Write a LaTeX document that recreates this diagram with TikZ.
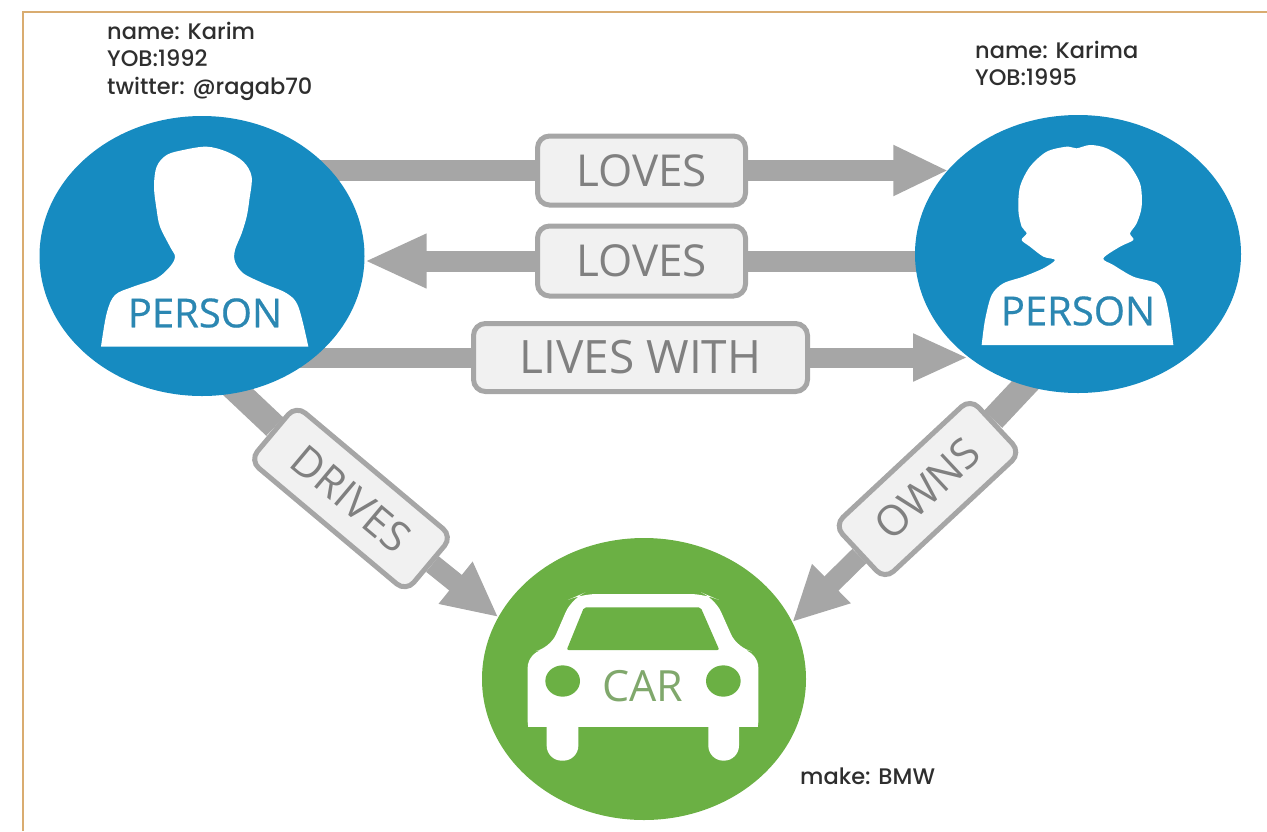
\documentclass[tikz,border=0pt]{standalone}
\usepackage{fontspec}
\setmainfont{Open Sans}
\newfontfamily\propfont{Poppins Medium}
\newfontfamily\typefont[FakeBold=0.5]{Open Sans}
\usetikzlibrary{shapes.geometric,arrows.meta,backgrounds,calc}
\definecolor{nodeblue}{HTML}{168BC1}
\definecolor{nodegreen}{HTML}{6BB044}
\definecolor{barGray}{HTML}{A6A6A6}
\definecolor{labelfill}{HTML}{F1F1F1}
\definecolor{labeltext}{HTML}{808080}
\definecolor{frameTan}{HTML}{D9AC70}
\definecolor{personText}{HTML}{2B87B2}
\definecolor{carText}{HTML}{80A86C}
\tikzset{
  entity/.style={ellipse,inner sep=0pt,outer sep=0pt,minimum width=#1},
  relbox/.style={draw=barGray,fill=labelfill,line width=5pt,rounded corners=12pt,
    inner sep=0pt,text=labeltext,font=\fontsize{44}{44}\selectfont},
  bar/.style={draw=barGray,line width=21pt},
  proptext/.style={anchor=north west,align=left,inner sep=0pt,text=black!82,
    font=\propfont\fontsize{22.5}{27.5}\selectfont},
  typetext/.style={inner sep=0pt,font=\typefont\fontsize{40}{40}\selectfont},
  silhouette/.style={fill=white,draw=none}
}
\begin{document}
\begin{tikzpicture}[x=1pt,y=-1pt]
\useasboundingbox (0,0) rectangle (1267,831);
% entities
\node[entity=325pt,minimum height=280pt,fill=nodeblue] (karim) at (202,256) {};
\node[entity=326pt,minimum height=278pt,fill=nodeblue] (karima) at (1078,254) {};
\node[entity=324pt,minimum height=282pt,fill=nodegreen] (car) at (644,679) {};
% silhouette of Karim
\begin{scope}[shift={(0,0)},x=0.33333pt,y=-0.33333pt]
\fill[silhouette] (303,1040) -- plot[smooth,tension=0.55] coordinates {(303,1040) (320,940) (345,885) (400,860) (470,835) (510,800) (525,770) (510,740) (480,680) (470,630) (462,560) (470,500) (500,465) (550,450) (620,440) (680,455) (730,485) (755,530) (748,600) (740,650) (725,700) (705,750) (705,785) (730,820) (790,850) (860,880) (895,920) (925,1040)} -- cycle;
\end{scope}
% silhouette of Karima
\begin{scope}[shift={(880,20)},x=0.33333pt,y=-0.33333pt]
\fill[silhouette] (305,975) -- plot[smooth,tension=0.5] coordinates {(305,975) (315,900) (335,825) (370,790) (430,770) (490,745) (525,720) (490,710) (450,680) (425,660) (440,640) (425,620) (415,570) (420,500) (450,440) (500,395) (560,380) (590,385) (630,375) (680,385) (740,425) (780,490) (785,560) (770,610) (750,640) (760,660) (720,680) (670,715) (700,735) (760,770) (830,790) (855,830) (870,900) (880,975)} -- cycle;
\end{scope}
% car
\begin{scope}[shift={(460,520)},x=0.33333pt,y=-0.33333pt]
\fill[silhouette,rounded corners=15pt] (203,650) -- (895,650) -- (895,398) -- (832,385) -- (765,235) -- (735,222) -- (365,222) -- (335,235) -- (270,385) -- (203,398) -- cycle;
\fill[nodegreen] (150,620) rectangle (950,660);
\fill[silhouette] (203,560) rectangle (895,620);
\fill[silhouette,rounded corners=15pt] (260,570) rectangle (355,722);
\fill[silhouette,rounded corners=15pt] (745,570) rectangle (837,722);
\fill[nodegreen,rounded corners=2pt] (320,390) -- (372,262) -- (722,262) -- (778,390) -- cycle;
\fill[nodegreen] (308,483) ellipse[x radius=52,y radius=47];
\fill[nodegreen] (790,483) ellipse[x radius=52,y radius=47];
\end{scope}
% type names
\node[typetext,text=personText] (ptypeA) at (205,313) {PERSON};
\node[typetext,text=personText] (ptypeB) at (1078,311) {PERSON};
\node[typetext,text=carText,font=\fontsize{43}{43}\selectfont] (ctype) at (643,686) {CAR};
% relationship labels
\node[relbox,minimum width=208pt,minimum height=69pt] (l1) at (641.5,170.5) {LOVES};
\node[relbox,minimum width=208pt,minimum height=70pt] (l2) at (641.5,261) {LOVES};
\node[relbox,minimum width=334pt,minimum height=68pt,font=\fontsize{46}{46}\selectfont] (l3) at (640.5,357.5) {LIVES WITH};
\node[relbox,minimum width=204pt,minimum height=72pt,rotate=-40,font=\fontsize{42}{42}\selectfont] (drives) at (351,498.5) {DRIVES};
\node[relbox,minimum width=186pt,minimum height=74pt,rotate=43,font=\fontsize{42}{42}\selectfont] (owns) at (927.5,489) {OWNS};
% connectors
\begin{scope}[on background layer]
\draw[frameTan,line width=2pt] (23,831) -- (23,12) -- (1267,12);
\draw[bar] (l1 -| karim) -- (l1);
\draw[bar,-{Triangle[length=55pt,width=47pt]}] (l1) -- (l1 -| karima.147.6);
\draw[bar] (l2 -| karima) -- (l2);
\draw[bar,-{Triangle[length=62pt,width=50pt]}] (l2) -- (l2 -| karim.east);
\draw[bar,line width=20pt] (l3 -| karim) -- (l3);
\draw[bar,line width=20pt,-{Triangle[length=55pt,width=44pt]}] (l3) -- (l3 -| karima.223.9);
\draw[bar,line width=25pt,shorten <=-12pt] (karim.-75) -- (drives);
\draw[bar,line width=20pt,-{Triangle[length=55pt,width=50pt]}] (drives) -- (car.157.5);
\draw[bar,line width=25pt,shorten <=-12pt] (karima.248) -- (owns);
\draw[bar,line width=20pt,-{Triangle[length=55pt,width=51pt]}] (owns) -- (car.21.7);
\end{scope}
% properties
\node[proptext] (propA) at (107,21.5) {name: Karim\\YOB:1992\\twitter: @ragab70};
\node[proptext] (propB) at (975,40.5) {name: Karima\\YOB:1995};
\node[proptext] (propC) at (800,768) {make: BMW};
\end{tikzpicture}
\end{document}
